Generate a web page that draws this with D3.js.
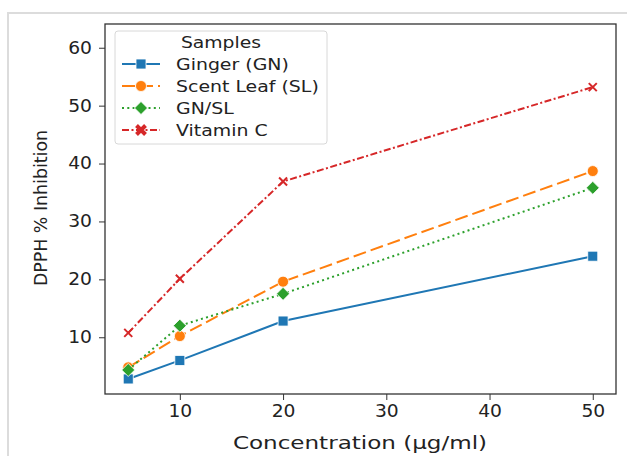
<!DOCTYPE html>
<html>
<head>
<meta charset="utf-8">
<script src="https://cdn.jsdelivr.net/npm/d3@7"></script>
<style>
  body { margin: 0; background: #fff; }
  svg { font-family: "DejaVu Sans", sans-serif; }
</style>
</head>
<body>
<svg id="chart" width="627" height="456"></svg>
<script>
// data
var concentrations = [5, 10, 20, 50];
var seriesNames = ["Ginger (GN)", "Scent Leaf (SL)", "GN/SL", "Vitamin C"];
var ginger = [2.8, 6.0, 12.8, 24.0];
var scentLeaf = [4.8, 10.2, 19.6, 38.7];
var gnsl = [4.35, 12.0, 17.5, 35.8];
var vitaminC = [10.75, 20.1, 36.9, 53.2];
var xTicks = [10, 20, 30, 40, 50];
var yTicks = [10, 20, 30, 40, 50, 60];

var colors = ["#1f77b4", "#ff7f0e", "#2ca02c", "#d62728"];
var dashes = [null, "13,5", "2,3.3", "7,2.5,2,2.5"];
var markers = ["square", "circle", "diamond", "x"];
var allValues = [ginger, scentLeaf, gnsl, vitaminC];

var svg = d3.select("#chart");

// the picture is a bit wider than tall, stretch texts sideways to match
function stretch(sel, k) {
  sel.each(function () {
    var w = this.getComputedTextLength();
    d3.select(this).attr("textLength", w * k).attr("lengthAdjust", "spacingAndGlyphs");
  });
}

// outer light frame (cropped figure border)
svg.append("path")
  .attr("d", "M8,456 L8,13 L627,13")
  .attr("fill", "none")
  .attr("stroke", "#dcdcdc")
  .attr("stroke-width", 2);

var plotLeft = 105, plotTop = 24, plotRight = 616, plotBottom = 394;

var x = d3.scaleLinear().domain([2.75, 52.25]).range([plotLeft, plotRight]);
var y = d3.scaleLinear().domain([0.2, 64.1]).range([plotBottom, plotTop]);

// axes
var xAxis = svg.append("g")
  .attr("transform", "translate(0," + plotBottom + ")")
  .call(d3.axisBottom(x).tickValues(xTicks).tickSize(6).tickPadding(5));
var yAxis = svg.append("g")
  .attr("transform", "translate(" + plotLeft + ",0)")
  .call(d3.axisLeft(y).tickValues(yTicks).tickSize(6).tickPadding(7));
[xAxis, yAxis].forEach(function (g) {
  g.select(".domain").remove();
  g.selectAll("line").attr("stroke", "#333").attr("stroke-width", 1);
  g.selectAll("text").attr("fill", "#222").style("font-size", "17px")
    .style("font-family", "DejaVu Sans");
  stretch(g.selectAll("text"), 1.1);
});

// frame
svg.append("rect")
  .attr("x", plotLeft).attr("y", plotTop)
  .attr("width", plotRight - plotLeft).attr("height", plotBottom - plotTop)
  .attr("fill", "none").attr("stroke", "#333").attr("stroke-width", 1.3);

// axis labels
var xLabel = svg.append("text")
  .attr("x", 360).attr("y", 449)
  .attr("text-anchor", "middle")
  .style("font-size", "18px").attr("fill", "#222")
  .text("Concentration (µg/ml)");
stretch(xLabel, 1.28);
svg.append("text")
  .attr("transform", "translate(47," + 208 + ") rotate(-90)")
  .attr("text-anchor", "middle")
  .style("font-size", "17.4px").attr("fill", "#222")
  .text("DPPH % Inhibition");

function drawMarker(g, type, cx, cy, color, size) {
  if (type === "square") {
    g.append("rect")
      .attr("x", cx - size / 2).attr("y", cy - size / 2)
      .attr("width", size).attr("height", size)
      .attr("fill", color).attr("stroke", "#fff").attr("stroke-width", 0.8);
  } else if (type === "circle") {
    g.append("circle")
      .attr("cx", cx).attr("cy", cy).attr("r", size / 2 + 0.5)
      .attr("fill", color).attr("stroke", "#fff").attr("stroke-width", 0.8);
  } else if (type === "diamond") {
    var r = size / 2 + 1.5;
    g.append("path")
      .attr("d", "M" + cx + "," + (cy - r) + "L" + (cx + r) + "," + cy + "L" + cx + "," + (cy + r) + "L" + (cx - r) + "," + cy + "Z")
      .attr("fill", color).attr("stroke", "#fff").attr("stroke-width", 0.8);
  } else {
    var h = size / 2 - 1;
    g.append("path")
      .attr("d", "M" + (cx - h) + "," + (cy - h) + "L" + (cx + h) + "," + (cy + h) + "M" + (cx - h) + "," + (cy + h) + "L" + (cx + h) + "," + (cy - h))
      .attr("stroke", color).attr("stroke-width", size > 10 ? 4 : 2).attr("fill", "none");
  }
}

var line = d3.line()
  .x(function (d) { return x(d[0]); })
  .y(function (d) { return y(d[1]); });

allValues.forEach(function (vals, i) {
  var pts = concentrations.map(function (c, j) { return [c, vals[j]]; });
  var g = svg.append("g");
  g.append("path")
    .datum(pts)
    .attr("d", line)
    .attr("fill", "none")
    .attr("stroke", colors[i])
    .attr("stroke-width", 2)
    .attr("stroke-dasharray", dashes[i]);
  pts.forEach(function (p) {
    drawMarker(g, markers[i], x(p[0]), y(p[1]), colors[i], 10);
  });
});

// legend
var lg = svg.append("g");
lg.append("rect")
  .attr("x", 115).attr("y", 31).attr("width", 212).attr("height", 113)
  .attr("rx", 3)
  .attr("fill", "#fff").attr("fill-opacity", 0.85)
  .attr("stroke", "#d8d8d8").attr("stroke-width", 1);
var title = lg.append("text")
  .attr("x", 221).attr("y", 48)
  .attr("text-anchor", "middle")
  .style("font-size", "15px").attr("fill", "#222")
  .text("Samples");
stretch(title, 1.25);
seriesNames.forEach(function (name, i) {
  var ly = 64 + i * 22;
  lg.append("line")
    .attr("x1", 122).attr("x2", 160).attr("y1", ly).attr("y2", ly)
    .attr("stroke", colors[i]).attr("stroke-width", 2)
    .attr("stroke-dasharray", dashes[i]);
  drawMarker(lg, markers[i], 141, ly, colors[i], markers[i] === "x" ? 11 : 10);
  var t = lg.append("text")
    .attr("x", 176).attr("y", ly + 5.5)
    .style("font-size", "15px").attr("fill", "#222")
    .text(name);
  stretch(t, 1.26);
});
</script>
</body>
</html>
